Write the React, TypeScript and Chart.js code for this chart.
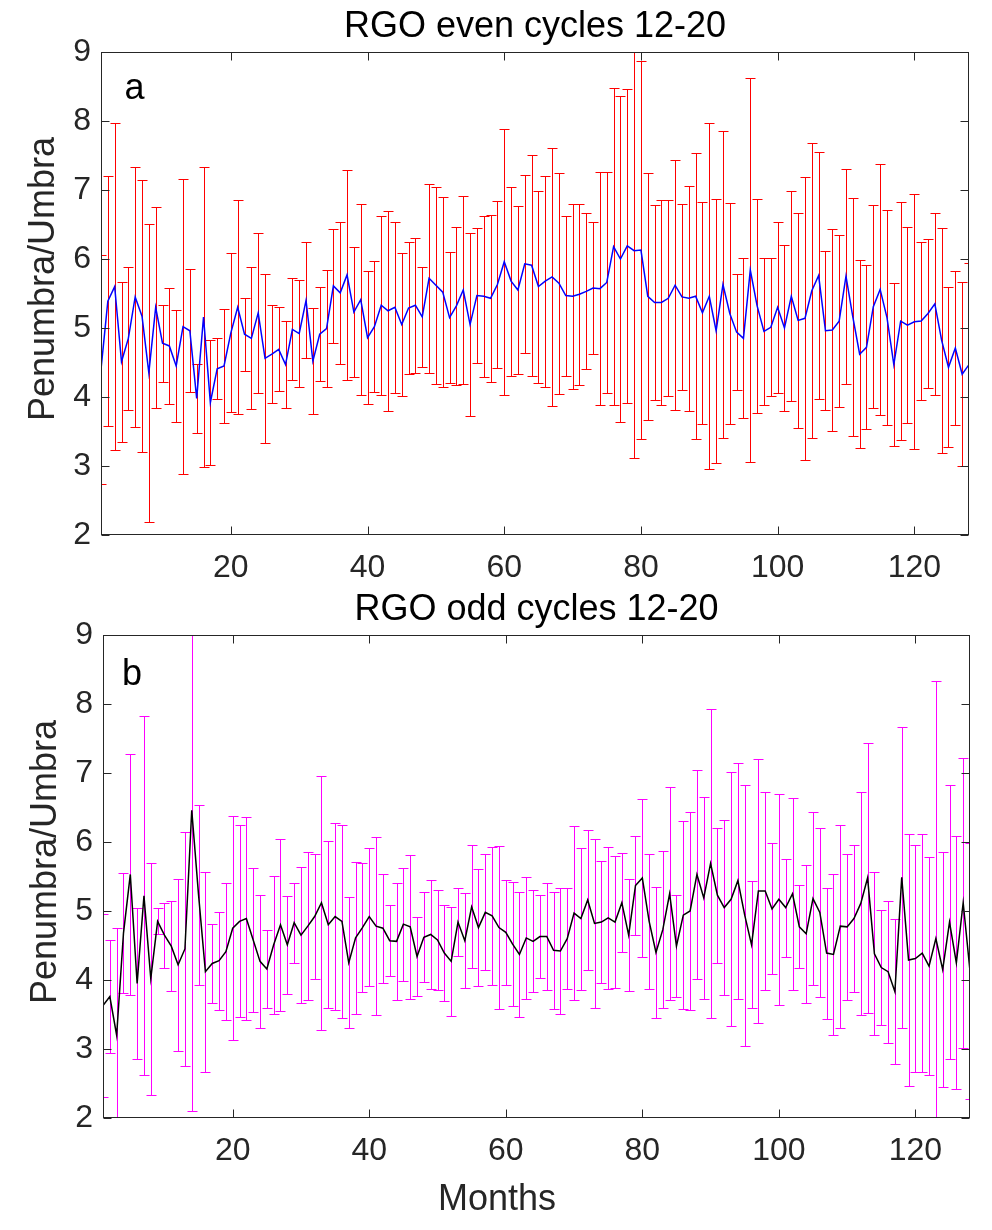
import React, { useEffect, useRef } from 'react'
import { Chart, registerables, type Plugin, type ChartConfiguration } from 'chart.js'

Chart.register(...registerables)

// month index 1..128 along the x axis
const months = Array.from({ length: 128 }, (_, i) => i + 1)
const xTicks = [20, 40, 60, 80, 100, 120]
const yTicks = [2, 3, 4, 5, 6, 7, 8, 9]

// RGO even cycles: monthly mean penumbra/umbra ratio and its spread
const evenMean = [
    4.40, 5.39, 5.60, 4.51, 4.85, 5.45, 5.17, 4.35, 5.30, 4.78,
    4.74, 4.45, 5.02, 4.96, 3.98, 5.16, 3.92, 4.41, 4.45, 4.93,
    5.30, 4.91, 4.85, 5.22, 4.56, 4.62, 4.69, 4.47, 4.98, 4.92,
    5.40, 4.52, 4.91, 4.99, 5.61, 5.51, 5.77, 5.23, 5.41, 4.86,
    5.02, 5.33, 5.25, 5.30, 5.05, 5.29, 5.33, 5.16, 5.72, 5.62,
    5.52, 5.15, 5.32, 5.55, 5.05, 5.47, 5.46, 5.43, 5.63, 5.96,
    5.68, 5.55, 5.93, 5.91, 5.60, 5.68, 5.74, 5.65, 5.47, 5.46,
    5.49, 5.53, 5.58, 5.57, 5.66, 6.18, 6.00, 6.19, 6.12, 6.13,
    5.46, 5.37, 5.37, 5.43, 5.62, 5.45, 5.43, 5.46, 5.22, 5.46,
    4.96, 5.63, 5.21, 4.94, 4.85, 5.84, 5.32, 4.95, 5.01, 5.30,
    5.00, 5.46, 5.11, 5.14, 5.54, 5.76, 4.96, 4.97, 5.10, 5.75,
    5.16, 4.62, 4.72, 5.31, 5.56, 5.15, 4.47, 5.10, 5.04, 5.09,
    5.10, 5.21, 5.35, 4.82, 4.43, 4.71, 4.33, 4.47,
]
const evenErr = [
    1.66, 1.81, 2.37, 1.16, 1.04, 1.88, 1.97, 2.16, 1.46, 0.56,
    0.84, 0.81, 2.14, 0.89, 0.50, 2.18, 0.90, 0.44, 0.82, 1.15,
    1.55, 0.53, 1.03, 1.16, 1.22, 0.71, 0.61, 0.63, 0.74, 0.78,
    0.84, 0.77, 0.68, 0.85, 0.83, 1.03, 1.52, 0.94, 1.38, 0.96,
    0.95, 1.30, 1.45, 1.24, 1.04, 0.96, 0.98, 0.72, 1.37, 1.43,
    1.38, 0.95, 1.14, 1.36, 1.33, 0.98, 1.17, 1.21, 1.21, 1.93,
    1.37, 1.22, 1.29, 1.60, 1.39, 1.53, 1.87, 1.60, 1.16, 1.34,
    1.31, 1.13, 0.96, 1.69, 1.60, 2.30, 2.36, 2.28, 3.01, 2.74,
    1.79, 1.41, 1.48, 1.42, 1.81, 1.35, 1.63, 2.07, 1.61, 2.51,
    1.91, 2.23, 1.60, 0.84, 1.16, 2.78, 1.55, 1.07, 1.00, 1.24,
    1.20, 1.52, 1.56, 2.05, 2.14, 1.79, 1.15, 1.46, 1.25, 1.56,
    1.72, 1.36, 1.19, 1.47, 1.82, 1.56, 1.18, 1.72, 1.42, 1.85,
    1.15, 1.08, 1.32, 1.63, 1.16, 1.12, 1.33, 1.47,
]

// RGO odd cycles
const oddMean = [
    3.63, 3.76, 3.20, 4.68, 5.53, 3.95, 5.22, 4.02, 4.85, 4.65,
    4.49, 4.22, 4.45, 6.46, 5.23, 4.12, 4.24, 4.28, 4.41, 4.75,
    4.85, 4.89, 4.58, 4.27, 4.16, 4.51, 4.80, 4.51, 4.83, 4.65,
    4.78, 4.92, 5.12, 4.80, 4.92, 4.85, 4.25, 4.61, 4.76, 4.92,
    4.78, 4.75, 4.57, 4.56, 4.81, 4.77, 4.34, 4.62, 4.66, 4.58,
    4.39, 4.27, 4.84, 4.57, 5.06, 4.76, 4.98, 4.93, 4.76, 4.69,
    4.52, 4.37, 4.61, 4.56, 4.63, 4.63, 4.43, 4.42, 4.60, 4.97,
    4.89, 5.16, 4.82, 4.84, 4.90, 4.84, 5.12, 4.65, 5.37, 5.48,
    4.85, 4.40, 4.73, 5.25, 4.49, 4.94, 5.00, 5.53, 5.19, 5.69,
    5.23, 5.05, 5.17, 5.44, 4.94, 4.51, 5.29, 5.29, 5.03, 5.17,
    5.05, 5.25, 4.77, 4.67, 5.18, 4.98, 4.39, 4.37, 4.78, 4.77,
    4.89, 5.11, 5.48, 4.38, 4.18, 4.12, 3.83, 5.49, 4.29, 4.31,
    4.39, 4.20, 4.60, 4.15, 4.84, 4.25, 5.12, 4.13,
]
const oddErr = [
    1.32, 0.82, 1.56, 0.87, 1.75, 1.09, 2.60, 1.68, 0.19, 0.47,
    0.65, 1.25, 1.69, 4.36, 1.30, 1.45, 0.57, 0.71, 0.99, 1.62,
    1.39, 1.47, 1.05, 0.96, 0.57, 1.00, 1.25, 0.71, 0.58, 0.99,
    1.07, 0.90, 1.84, 1.21, 1.36, 1.40, 0.95, 1.10, 0.93, 1.00,
    1.29, 0.79, 0.51, 0.85, 0.82, 1.04, 0.57, 0.65, 0.79, 0.73,
    0.70, 0.79, 0.49, 0.69, 0.89, 0.85, 0.84, 1.00, 1.18, 0.76,
    0.90, 0.90, 0.89, 0.74, 0.60, 0.78, 0.85, 0.91, 0.73, 1.26,
    1.03, 1.02, 1.23, 0.88, 1.03, 0.96, 0.72, 0.81, 0.72, 1.15,
    0.98, 0.95, 1.14, 1.54, 0.74, 1.36, 1.44, 1.52, 1.46, 2.24,
    0.98, 1.27, 1.84, 1.71, 1.89, 0.92, 1.92, 1.44, 0.95, 1.53,
    0.71, 1.39, 0.60, 1.00, 1.25, 1.23, 0.95, 1.17, 1.47, 1.06,
    1.07, 1.62, 1.96, 1.18, 0.83, 1.03, 1.05, 2.18, 1.83, 1.64,
    1.73, 1.58, 3.74, 1.70, 1.99, 1.83, 2.10, 1.85,
]

const FONT = "'Liberation Sans', Arial, Helvetica, sans-serif"
const AXIS = '#262626'

// symmetric error bars drawn under the mean line
const errorBars: Plugin<'line'> = {
    id: 'errorBars',
    beforeDatasetsDraw(chart, _args, opts: any) {
        const { ctx, chartArea: a, scales } = chart
        const xs = scales.x
        const ys = scales.y
        const pts = chart.data.datasets[0].data as { x: number; y: number }[]
        ctx.save()
        ctx.beginPath()
        ctx.rect(a.left, a.top, a.right - a.left, a.bottom - a.top)
        ctx.clip()
        ctx.strokeStyle = opts.color
        ctx.lineWidth = 1
        ctx.beginPath()
        pts.forEach((p, i) => {
            const e = opts.err[i]
            const px = Math.round(xs.getPixelForValue(p.x)) + 0.5
            const hi = Math.round(ys.getPixelForValue(p.y + e)) + 0.5
            const lo = Math.round(ys.getPixelForValue(p.y - e)) + 0.5
            ctx.moveTo(px, hi)
            ctx.lineTo(px, lo)
            ctx.moveTo(px - 5, hi)
            ctx.lineTo(px + 5, hi)
            ctx.moveTo(px - 5, lo)
            ctx.lineTo(px + 5, lo)
        })
        ctx.stroke()
        ctx.restore()
    },
}

// box, inward ticks and the texts of a panel
const frame: Plugin<'line'> = {
    id: 'frame',
    afterDraw(chart, _args, o: any) {
        const { ctx, chartArea: a, scales } = chart
        const L = Math.round(a.left) + 0.5
        const R = Math.round(a.right) - 0.5
        const T = Math.round(a.top) + 0.5
        const B = Math.round(a.bottom) - 0.5
        ctx.save()
        ctx.strokeStyle = AXIS
        ctx.lineWidth = 1
        ctx.beginPath()
        scales.x.ticks.forEach((t) => {
            const px = Math.round(scales.x.getPixelForValue(t.value)) + 0.5
            ctx.moveTo(px, B)
            ctx.lineTo(px, B - 8)
            ctx.moveTo(px, T)
            ctx.lineTo(px, T + 8)
        })
        scales.y.ticks.forEach((t) => {
            const py = Math.round(scales.y.getPixelForValue(t.value)) + 0.5
            ctx.moveTo(L, py)
            ctx.lineTo(L + 8, py)
            ctx.moveTo(R, py)
            ctx.lineTo(R - 8, py)
        })
        ctx.stroke()
        ctx.strokeRect(L, T, R - L, B - T)

        ctx.font = `36px ${FONT}`
        ctx.textBaseline = 'alphabetic'
        ctx.fillStyle = '#000'
        ctx.textAlign = 'center'
        ctx.fillText(o.title, (a.left + a.right) / 2, o.titleY)
        ctx.textAlign = 'left'
        ctx.fillText(o.letter, o.letterX, o.letterY)

        ctx.fillStyle = AXIS
        ctx.save()
        ctx.translate(o.yLabelX, o.yLabelY)
        ctx.rotate(-Math.PI / 2)
        ctx.textAlign = 'center'
        ctx.fillText('Penumbra/Umbra', 0, 0)
        ctx.restore()
        if (o.xLabel) {
            ctx.textAlign = 'center'
            ctx.fillText(o.xLabel, o.xLabelX, o.xLabelY)
        }
        ctx.restore()
    },
}

type PanelProps = {
    top: number
    height: number
    mean: number[]
    err: number[]
    lineColor: string
    barColor: string
    padding: { top: number; right: number; bottom: number; left: number }
    yWidth: number
    xHeight: number
    text: Record<string, string | number>
}

const Panel = ({ top, height, mean, err, lineColor, barColor, padding, yWidth, xHeight, text }: PanelProps) => {
    const canvasRef = useRef<HTMLCanvasElement | null>(null)

    useEffect(() => {
        if (!canvasRef.current) return

        const tickFont = { family: FONT, size: 32 }
        const config: ChartConfiguration<'line'> = {
            type: 'line',
            data: {
                datasets: [{
                    data: months.map((m, i) => ({ x: m, y: mean[i] })),
                    borderColor: lineColor,
                    borderWidth: 1.5,
                    pointRadius: 0,
                    fill: false,
                    tension: 0,
                }],
            },
            options: {
                animation: false,
                responsive: false,
                events: [],
                layout: { padding },
                plugins: {
                    legend: { display: false },
                    tooltip: { enabled: false },
                    errorBars: { err, color: barColor },
                    frame: text,
                } as any,
                scales: {
                    x: {
                        type: 'linear',
                        min: 1,
                        max: 128,
                        afterBuildTicks: (s: any) => { s.ticks = xTicks.map((v) => ({ value: v })) },
                        afterFit: (s: any) => { s.height = xHeight },
                        grid: { display: false, drawTicks: false },
                        border: { display: false },
                        ticks: { font: tickFont, color: AXIS, padding: 13.5, maxRotation: 0, autoSkip: false },
                    },
                    y: {
                        type: 'linear',
                        min: 2,
                        max: 9,
                        afterBuildTicks: (s: any) => { s.ticks = yTicks.map((v) => ({ value: v })) },
                        afterFit: (s: any) => { s.width = yWidth },
                        grid: { display: false, drawTicks: false },
                        border: { display: false },
                        ticks: { font: tickFont, color: AXIS, padding: 10, autoSkip: false },
                    },
                },
            },
            plugins: [errorBars, frame],
        }

        const chart = new Chart(canvasRef.current, config)
        return () => {
            chart.destroy()
        }
    }, [])

    return (
        <canvas
            ref={canvasRef}
            width={992}
            height={height}
            style={{ position: 'absolute', left: 0, top, width: 992, height }}
        />
    )
}

const App = () => (
    <div style={{ position: 'absolute', left: 0, top: 0, width: 992, height: 1230, background: '#fff' }}>
        <Panel
            top={0}
            height={590}
            mean={evenMean}
            err={evenErr}
            lineColor="#0000ff"
            barColor="#ff0000"
            padding={{ top: 52, right: 23, bottom: 0, left: 0 }}
            yWidth={101}
            xHeight={55}
            text={{ title: 'RGO even cycles 12-20', titleY: 37, letter: 'a', letterX: 124.5, letterY: 99, yLabelX: 54, yLabelY: 279 }}
        />
        <Panel
            top={590}
            height={640}
            mean={oddMean}
            err={oddErr}
            lineColor="#000000"
            barColor="#ff00ff"
            padding={{ top: 45, right: 22, bottom: 0, left: 0 }}
            yWidth={103}
            xHeight={112}
            text={{
                title: 'RGO odd cycles 12-20', titleY: 30, letter: 'b', letterX: 122, letterY: 95,
                yLabelX: 56, yLabelY: 272, xLabel: 'Months', xLabelX: 497, xLabelY: 620,
            }}
        />
    </div>
)

export default App
